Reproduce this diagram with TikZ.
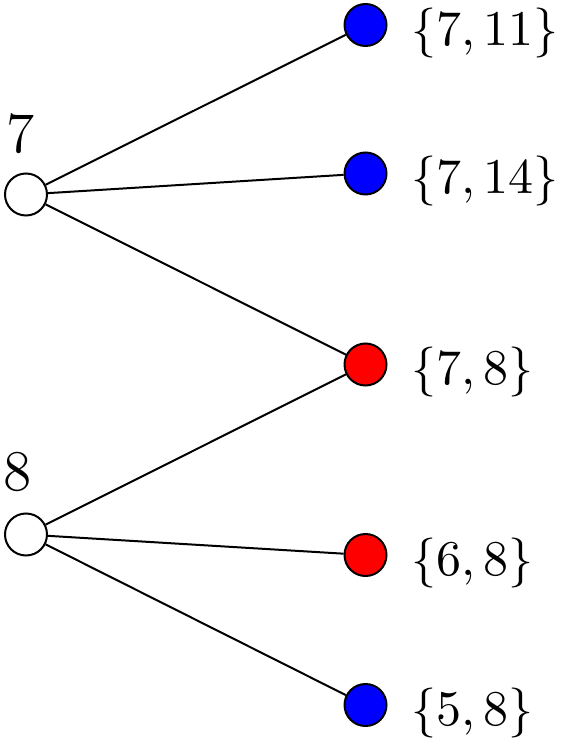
\documentclass[tikz,border=0pt]{standalone}
\begin{document}
\begin{tikzpicture}[x=0.2pt,y=-0.2pt,
  vert/.style={circle,draw=black,line width=0.4pt,minimum size=8.4pt,inner sep=0pt},
  setlab/.style={anchor=base west,inner sep=0pt,font=\fontsize{10.3}{13}\selectfont},
  toplab/.style={anchor=base,inner sep=0pt,font=\fontsize{11.5}{14}\selectfont},
  edge/.style={line width=0.4pt}]
\useasboundingbox (0,0) rectangle (570,744);
\node[vert,fill=white] (a) at (26,194.5) {};
\node[vert,fill=white] (b) at (26,534.5) {};
\node[vert,fill=blue] (r1) at (365.5,25) {};
\node[vert,fill=blue] (r2) at (365.5,173.5) {};
\node[vert,fill=red] (r3) at (365.5,364.5) {};
\node[vert,fill=red] (r4) at (365.5,555) {};
\node[vert,fill=blue] (r5) at (365.5,705) {};
\node[toplab] (la) at (21,153) {7};
\node[toplab] (lb) at (18,490) {8};
\node[setlab] (s1) at (410,45.5) {$\{7,11\}$};
\node[setlab] (s2) at (410,193.5) {$\{7,14\}$};
\node[setlab] (s3) at (410,384.5) {$\{7,8\}$};
\node[setlab] (s4) at (410,575) {$\{6,8\}$};
\node[setlab] (s5) at (410,725) {$\{5,8\}$};
\draw[edge] (a) -- (r1);
\draw[edge] (a) -- (r2);
\draw[edge] (a) -- (r3);
\draw[edge] (b) -- (r3);
\draw[edge] (b) -- (r4);
\draw[edge] (b) -- (r5);
\end{tikzpicture}
\end{document}
